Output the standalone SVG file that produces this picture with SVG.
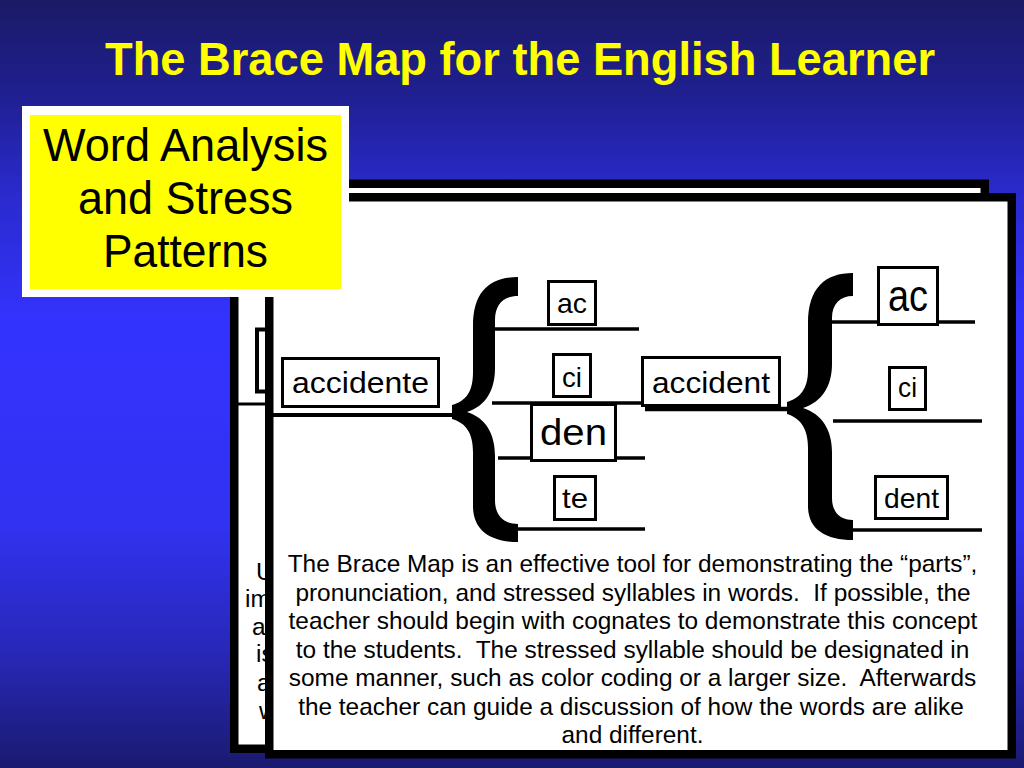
<svg xmlns="http://www.w3.org/2000/svg" width="1024" height="768" viewBox="0 0 1024 768">
  <defs>
    <linearGradient id="bg" x1="0" y1="0" x2="0" y2="1">
      <stop offset="0" stop-color="#1a1a66"/>
      <stop offset="0.12" stop-color="#1f1f8f"/>
      <stop offset="0.25" stop-color="#2a2acc"/>
      <stop offset="0.42" stop-color="#3333ff"/>
      <stop offset="0.68" stop-color="#3232f2"/>
      <stop offset="0.86" stop-color="#2727b4"/>
      <stop offset="1" stop-color="#1a1a70"/>
    </linearGradient>
  </defs>
  <style>
    .t { font-family: "Liberation Sans", Arial, "DejaVu Sans", sans-serif; fill: #000; }
    .mid { text-anchor: middle; }
    .box { fill: #fff; stroke: #000; stroke-width: 3; }
    .panel { fill: #fff; stroke: #000; stroke-width: 8.5; }
    .ln { stroke: #000; stroke-width: 3.5; fill: none; }
    .brace { fill: #000; stroke: none; }
    .para { font-size: 24.4px; white-space: pre; }
  </style>

  <rect x="0" y="0" width="1024" height="768" fill="url(#bg)"/>

  <text class="t mid" x="520" y="75" font-size="47" font-weight="bold" style="fill:#ffff00" textLength="830" lengthAdjust="spacingAndGlyphs">The Brace Map for the English Learner</text>

  <!-- back panel -->
  <g id="back-panel">
    <rect class="panel" x="234.25" y="183.75" width="750.5" height="565"/>
    <rect x="257" y="329.5" width="30" height="62" fill="#fff" stroke="#000" stroke-width="4"/>
    <line x1="238" y1="404" x2="270" y2="404" stroke="#000" stroke-width="3"/>
    <text class="t para" x="256" y="580">U</text>
    <text class="t para" x="245" y="607">im</text>
    <text class="t para" x="252" y="635">a</text>
    <text class="t para" x="256" y="662">is</text>
    <text class="t para" x="257" y="691">a</text>
    <text class="t para" x="259" y="719">w</text>
  </g>

  <!-- front panel -->
  <g id="front-panel">
    <rect class="panel" x="269.25" y="197.25" width="742.5" height="557"/>
  </g>

  <g id="connectors">
    <!-- brace 1 -->
    <path class="brace" d="M518 277 C490 277 473 291 473 326 L473 372 C473 392 466 401 452 405 L452 419 C466 423 473 433 473 452 L473 506 C473 530 490 542 518 542 L518 524 C503 524 495 515 495 500 L495 456 C495 434 486 418 467 412 C486 406 495 390 495 368 L495 320 C495 305 503 296 518 296 Z"/>
    <line class="ln" x1="273" y1="415" x2="458" y2="415" style="stroke-width:4"/>
    <line class="ln" x1="495" y1="329" x2="639" y2="329"/>
    <line class="ln" x1="492" y1="403" x2="642" y2="403"/>
    <line class="ln" x1="498" y1="458" x2="645" y2="458"/>
    <line class="ln" x1="515" y1="529" x2="645" y2="529"/>
    <!-- brace 2 -->
    <path class="brace" d="M853 273 C825 273 808 288 808 323 L808 370 C808 389 800 398 787 402 L787 414 C800 418 808 428 808 448 L808 506 C808 529 825 540 853 540 L853 520 C840 520 832 512 832 498 L832 452 C832 430 822 414 803 408 C822 402 832 386 832 364 L832 318 C832 304 840 296 853 296 Z"/>
    <line class="ln" x1="645" y1="409" x2="792" y2="409" style="stroke-width:4.5"/>
    <line class="ln" x1="830" y1="322" x2="975" y2="322"/>
    <line class="ln" x1="833" y1="421" x2="982" y2="421"/>
    <line class="ln" x1="850" y1="530" x2="982" y2="530"/>
  </g>

  <g id="node-accidente">
    <rect class="box" x="282.5" y="358.5" width="156" height="48"/>
    <text class="t mid" x="360.5" y="393" font-size="30" textLength="137" lengthAdjust="spacingAndGlyphs">accidente</text>
  </g>
  <g id="node-ac1">
    <rect class="box" x="548.5" y="281.5" width="47" height="43"/>
    <text class="t mid" x="572" y="313" font-size="28" textLength="30" lengthAdjust="spacingAndGlyphs">ac</text>
  </g>
  <g id="node-ci1">
    <rect class="box" x="553.5" y="354.5" width="37" height="42"/>
    <text class="t mid" x="572" y="387" font-size="28" textLength="20" lengthAdjust="spacingAndGlyphs">ci</text>
  </g>
  <g id="node-den">
    <rect class="box" x="531.5" y="404.5" width="84" height="56"/>
    <text class="t mid" x="573.5" y="445" font-size="36" textLength="67" lengthAdjust="spacingAndGlyphs">den</text>
  </g>
  <g id="node-te">
    <rect class="box" x="554.5" y="476.5" width="41" height="43"/>
    <text class="t mid" x="575" y="508" font-size="28" textLength="26" lengthAdjust="spacingAndGlyphs">te</text>
  </g>
  <g id="node-accident">
    <rect class="box" x="642.5" y="357.5" width="137" height="48"/>
    <text class="t mid" x="711" y="393" font-size="30" textLength="118" lengthAdjust="spacingAndGlyphs">accident</text>
  </g>
  <g id="node-ac2">
    <rect class="box" x="878.5" y="267.5" width="59" height="57"/>
    <text class="t mid" x="908" y="311" font-size="44" textLength="40" lengthAdjust="spacingAndGlyphs">ac</text>
  </g>
  <g id="node-ci2">
    <rect class="box" x="889.5" y="367.5" width="36" height="42"/>
    <text class="t mid" x="907.5" y="397" font-size="28" textLength="19" lengthAdjust="spacingAndGlyphs">ci</text>
  </g>
  <g id="node-dent">
    <rect class="box" x="875.5" y="476.5" width="72" height="42"/>
    <text class="t mid" x="911.5" y="508" font-size="28" textLength="55" lengthAdjust="spacingAndGlyphs">dent</text>
  </g>

  <g id="description" xml:space="preserve">
    <text class="t para mid" x="632.5" y="572">The Brace Map is an effective tool for demonstrating the “parts”,</text>
    <text class="t para mid" x="633" y="600.5">pronunciation, and stressed syllables in words.  If possible, the</text>
    <text class="t para mid" x="633" y="629">teacher should begin with cognates to demonstrate this concept</text>
    <text class="t para mid" x="632.5" y="657.5">to the students.  The stressed syllable should be designated in</text>
    <text class="t para mid" x="632.5" y="686">some manner, such as color coding or a larger size.  Afterwards</text>
    <text class="t para mid" x="631" y="714.5">the teacher can guide a discussion of how the words are alike</text>
    <text class="t para mid" x="632.5" y="743">and different.</text>
  </g>

  <g id="title-box">
    <rect x="22" y="106" width="327" height="191" fill="#fff"/>
    <rect x="30" y="115" width="311" height="174" fill="#ffff00"/>
    <text class="t mid" x="185.5" y="161" font-size="46" textLength="285" lengthAdjust="spacingAndGlyphs">Word Analysis</text>
    <text class="t mid" x="185.5" y="214" font-size="46" textLength="215" lengthAdjust="spacingAndGlyphs">and Stress</text>
    <text class="t mid" x="185.5" y="267" font-size="46" textLength="165" lengthAdjust="spacingAndGlyphs">Patterns</text>
  </g>
</svg>
